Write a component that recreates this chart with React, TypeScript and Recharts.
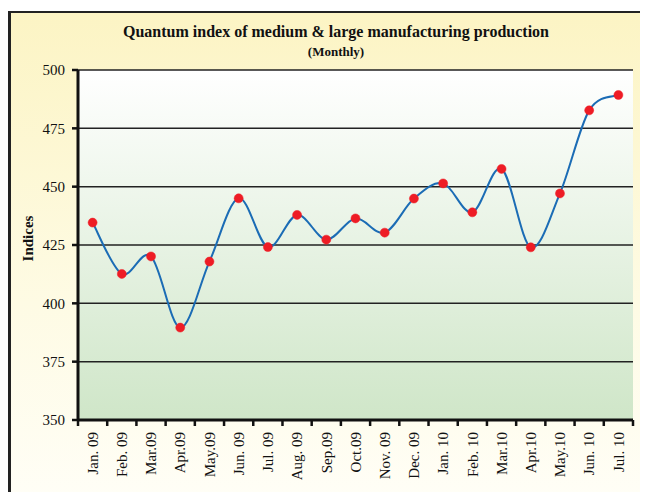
import { CartesianGrid, Line, LineChart, XAxis, YAxis } from "recharts";

const months = [
  "Jan. 09", "Feb. 09", "Mar.09", "Apr.09", "May.09", "Jun. 09", "Jul. 09",
  "Aug. 09", "Sep.09", "Oct.09", "Nov. 09", "Dec. 09", "Jan. 10", "Feb. 10",
  "Mar.10", "Apr.10", "May.10", "Jun. 10", "Jul. 10",
];
const indices = [
  434.6, 412.6, 420.1, 389.6, 417.9, 445.0, 424.1, 437.9, 427.3, 436.4,
  430.3, 444.9, 451.4, 439.0, 457.6, 424.0, 447.1, 482.7, 489.3,
];
const yTicks = [350, 375, 400, 425, 450, 475, 500];

const data = months.map((m, i) => ({ month: m, value: indices[i] }));

const serif = '"Liberation Serif", "Times New Roman", serif';

// Excel style smooth line (catmull-rom like bezier), overshoots between points
const excelSmooth = (context: any) => {
  let pts: number[][] = [];
  return {
    areaStart() {},
    areaEnd() {},
    lineStart() {
      pts = [];
    },
    point(x: number, y: number) {
      pts.push([+x, +y]);
    },
    lineEnd() {
      if (!pts.length) return;
      context.moveTo(pts[0][0], pts[0][1]);
      for (let i = 0; i < pts.length - 1; i++) {
        const p0 = pts[i - 1] || pts[i];
        const p1 = pts[i];
        const p2 = pts[i + 1];
        const p3 = pts[i + 2] || p2;
        context.bezierCurveTo(
          p1[0] + (p2[0] - p0[0]) / 6,
          p1[1] + (p2[1] - p0[1]) / 6,
          p2[0] - (p3[0] - p1[0]) / 6,
          p2[1] - (p3[1] - p1[1]) / 6,
          p2[0],
          p2[1]
        );
      }
    },
  };
};

const MonthTick = (props: any) => {
  const { x, y, payload, index, width, visibleTicksCount } = props;
  let bw = width / visibleTicksCount;
  if (!isFinite(bw)) bw = 556 / months.length;
  const top = y - 12;
  return (
    <g>
      <line x1={x - bw / 2} y1={top} x2={x - bw / 2} y2={top + 6} stroke="#111" strokeWidth={2.5} />
      {index === months.length - 1 && (
        <line x1={x + bw / 2} y1={top} x2={x + bw / 2} y2={top + 6} stroke="#111" strokeWidth={2.5} />
      )}
      <text
        x={x}
        y={y}
        transform={`rotate(-90, ${x}, ${y})`}
        textAnchor="end"
        dy="0.35em"
        fontSize={15}
        fontFamily={serif}
        fill="#111"
      >
        {payload.value}
      </text>
    </g>
  );
};

export default function App() {
  return (
    <div
      style={{
        position: "relative",
        top: 3,
        width: 637,
        height: 482,
        borderTop: "2px solid #222",
        borderLeft: "3px solid #222",
        background: "linear-gradient(180deg, #fcf4c4 0%, #fefbe4 60%, #fffef6 100%)",
        fontFamily: serif,
      }}
    >
      <div
        style={{
          position: "absolute",
          left: 0,
          width: 650,
          top: 10,
          textAlign: "center",
          fontWeight: "bold",
          fontSize: 16,
          color: "#111",
        }}
      >
        Quantum index of medium &amp; large manufacturing production
      </div>
      <div
        style={{
          position: "absolute",
          left: 0,
          width: 650,
          top: 31,
          textAlign: "center",
          fontWeight: "bold",
          fontSize: 13,
          color: "#111",
        }}
      >
        (Monthly)
      </div>
      <div
        style={{
          position: "absolute",
          left: 17,
          top: 227,
          width: 0,
          height: 0,
        }}
      >
        <div
          style={{
            position: "absolute",
            left: -40,
            top: -10,
            width: 80,
            textAlign: "center",
            fontWeight: "bold",
            fontSize: 15,
            color: "#111",
            transform: "rotate(-90deg)",
          }}
        >
          Indices
        </div>
      </div>
      <div style={{ position: "absolute", left: 0, top: 0 }}>
        <LineChart
          width={637}
          height={482}
          data={data}
          margin={{ top: 57, right: 15, bottom: 0, left: 0 }}
        >
          <defs>
            <linearGradient id="plotBg" x1="0" y1="0" x2="0" y2="1">
              <stop offset="0%" stopColor="#ffffff" />
              <stop offset="100%" stopColor="#cfe6c8" />
            </linearGradient>
          </defs>
          <CartesianGrid
            vertical={false}
            stroke="#222"
            strokeWidth={1.5}
            fill="url(#plotBg)"
            fillOpacity={1}
          />
          <XAxis
            dataKey="month"
            scale="band"
            height={75}
            interval={0}
            tickLine={false}
            tickSize={6}
            tickMargin={6}
            axisLine={{ stroke: "#111", strokeWidth: 3 }}
            tick={<MonthTick />}
          />
          <YAxis
            width={67}
            domain={[350, 500]}
            ticks={yTicks}
            interval={0}
            tickSize={6}
            tickMargin={7}
            axisLine={{ stroke: "#111", strokeWidth: 3 }}
            tickLine={{ stroke: "#111", strokeWidth: 2.5 }}
            tick={{ fontSize: 15, fontFamily: serif, fill: "#111" }}
          />
          <Line
            type={excelSmooth as any}
            dataKey="value"
            stroke="#1b6cb5"
            strokeWidth={2}
            dot={{ r: 4.5, fill: "#ee1c25", stroke: "#ee1c25", strokeWidth: 0.5 }}
            activeDot={false}
            isAnimationActive={false}
          />
        </LineChart>
      </div>
    </div>
  );
}
